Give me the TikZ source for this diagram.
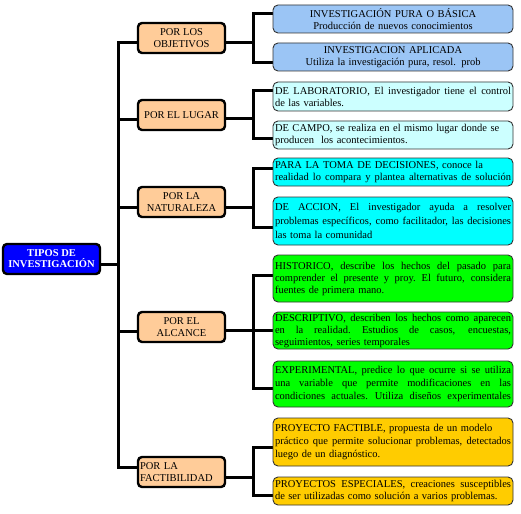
\documentclass[tikz,border=0pt]{standalone}
\usepackage{fontspec}
\setmainfont{Liberation Serif}
\usetikzlibrary{backgrounds}
\definecolor{peach}{HTML}{FFCC99}
\definecolor{lblue}{HTML}{9BC5F5}
\definecolor{lcyan}{HTML}{CCFFFF}
\definecolor{cyanf}{HTML}{00FFFF}
\definecolor{greenf}{HTML}{00FF00}
\definecolor{goldf}{HTML}{FFCC00}
\definecolor{rootblue}{HTML}{0000FF}
\newcommand{\jl}[1]{\makebox[236pt][s]{\spaceskip=.25em plus 1fil\relax\xspaceskip=.3em plus 1fil\relax #1}}
\tikzset{
  rootbox/.style={draw, line width=2.4pt, rounded corners=4pt, fill=rootblue, text=white,
    minimum width=97pt, minimum height=30pt, inner sep=1pt, align=center,
    font=\fontsize{10.5}{11}\selectfont\bfseries},
  cat/.style={draw, line width=2.4pt, rounded corners=4pt, fill=peach,
    minimum width=87pt, minimum height=30pt, inner sep=1pt, align=center,
    font=\fontsize{10.5}{11.5}\selectfont},
  leaf/.style={draw=black!80, line width=0.9pt, rounded corners=5pt,
    minimum width=240pt, text width=236pt, inner xsep=2pt, inner ysep=1pt,
    align=left, font=\fontsize{10.5}{12}\selectfont},
  conn/.style={line width=3pt}
}
\begin{document}
\begin{tikzpicture}[x=1pt,y=-1pt]
\useasboundingbox (0,0) rectangle (521,513);
% root
\node[rootbox] (root) at (51.5,259) {TIPOS DE\\INVESTIGACIÓN};
% categories
\node[cat] (c1) at (181.5,38) {POR LOS\\OBJETIVOS};
\node[cat] (c2) at (181.5,115) {POR EL LUGAR};
\node[cat] (c3) at (181.5,202) {POR LA\\NATURALEZA};
\node[cat] (c4) at (181.5,327) {POR EL\\ALCANCE};
\node[cat, text width=83pt, align=left] (c5) at (181.5,472) {POR LA\\FACTIBILIDAD};
% leaves
\node[leaf, fill=lblue, align=center, minimum height=28pt] (l1) at (393,19)
  {INVESTIGACIÓN PURA O BÁSICA\\Producción de nuevos conocimientos};
\node[leaf, fill=lblue, align=center, minimum height=28pt] (l2) at (393,57)
  {INVESTIGACION APLICADA\\Utiliza la investigación pura, resol. prob};
\node[leaf, fill=lcyan, minimum height=29pt] (l3) at (393,96.5)
  {\jl{DE LABORATORIO, El investigador tiene el control}\\de las variables.};
\node[leaf, fill=lcyan, minimum height=28pt] (l4) at (393,135)
  {DE CAMPO, se realiza en el mismo lugar donde se\\producen\ \ los acontecimientos.};
\node[leaf, fill=cyanf, minimum height=28pt] (l5) at (393,172)
  {PARA LA TOMA DE DECISIONES, conoce la\\\jl{realidad lo compara y plantea alternativas de solución}};
\node[leaf, fill=cyanf, minimum height=48pt, font=\fontsize{10.5}{14}\selectfont] (l6) at (393,221)
  {\jl{DE ACCION, El investigador ayuda a resolver}\\\jl{problemas específicos, como facilitador, las decisiones}\\las toma la comunidad};
\node[leaf, fill=greenf, minimum height=47pt] (l7) at (393,278.5)
  {\jl{HISTORICO, describe los hechos del pasado para}\\\jl{comprender el presente y proy. El futuro, considera}\\fuentes de primera mano.};
\node[leaf, fill=greenf, minimum height=37pt] (l8) at (393,330.5)
  {\jl{DESCRIPTIVO, describen los hechos como aparecen}\\\jl{en la realidad. Estudios de casos, encuestas,}\\seguimientos, series temporales};
\node[leaf, fill=greenf, minimum height=46pt, font=\fontsize{10.5}{13}\selectfont] (l9) at (393,384)
  {\jl{EXPERIMENTAL, predice lo que ocurre si se utiliza}\\\jl{una variable que permite modificaciones en las}\\\jl{condiciones actuales. Utiliza diseños experimentales}};
\node[leaf, fill=goldf, minimum height=48pt, font=\fontsize{10.5}{13}\selectfont] (l10) at (393,442)
  {PROYECTO FACTIBLE, propuesta de un modelo\\\jl{práctico que permite solucionar problemas, detectados}\\luego de un diagnóstico.};
\node[leaf, fill=goldf, minimum height=28pt] (l11) at (393,491)
  {\jl{PROYECTOS ESPECIALES, creaciones susceptibles}\\de ser utilizadas como solución a varios problemas.};
% junction coordinates
\coordinate (sp) at (118,264);
\coordinate (j1) at (253,43);
\coordinate (j2) at (253,119);
\coordinate (j3) at (253,207);
\coordinate (j4) at (253,330);
\coordinate (j5) at (253,477);
\begin{scope}[on background layer]
  \draw[conn] (root.east |- sp) -- (sp);
  \draw[conn] (c1.west |- 0,43) -| (sp) |- (c5.west |- 0,467);
  \draw[conn] (c2.west |- 0,120) -- (sp |- 0,120);
  \draw[conn] (c3.west |- 0,207) -- (sp |- 0,207);
  \draw[conn] (c4.west |- 0,331) -- (sp |- 0,331);
  % brackets
  \draw[conn] (c1.east |- j1) -- (j1);
  \draw[conn] (l1.west |- 0,14) -| (j1) |- (l2.west |- 0,63);
  \draw[conn] (c2.east |- j2) -- (j2);
  \draw[conn] (l3.west |- 0,91) -| (j2) |- (l4.west |- 0,139);
  \draw[conn] (c3.east |- j3) -- (j3);
  \draw[conn] (l5.west |- 0,168) -| (j3) |- (l6.west |- 0,227);
  \draw[conn] (c4.east |- j4) -- (l8.west |- j4);
  \draw[conn] (l7.west |- 0,275) -| (j4) |- (l9.west |- 0,388);
  \draw[conn] (c5.east |- j5) -- (j5);
  \draw[conn] (l10.west |- 0,447) -| (j5) |- (l11.west |- 0,495);
\end{scope}
\end{tikzpicture}
\end{document}
